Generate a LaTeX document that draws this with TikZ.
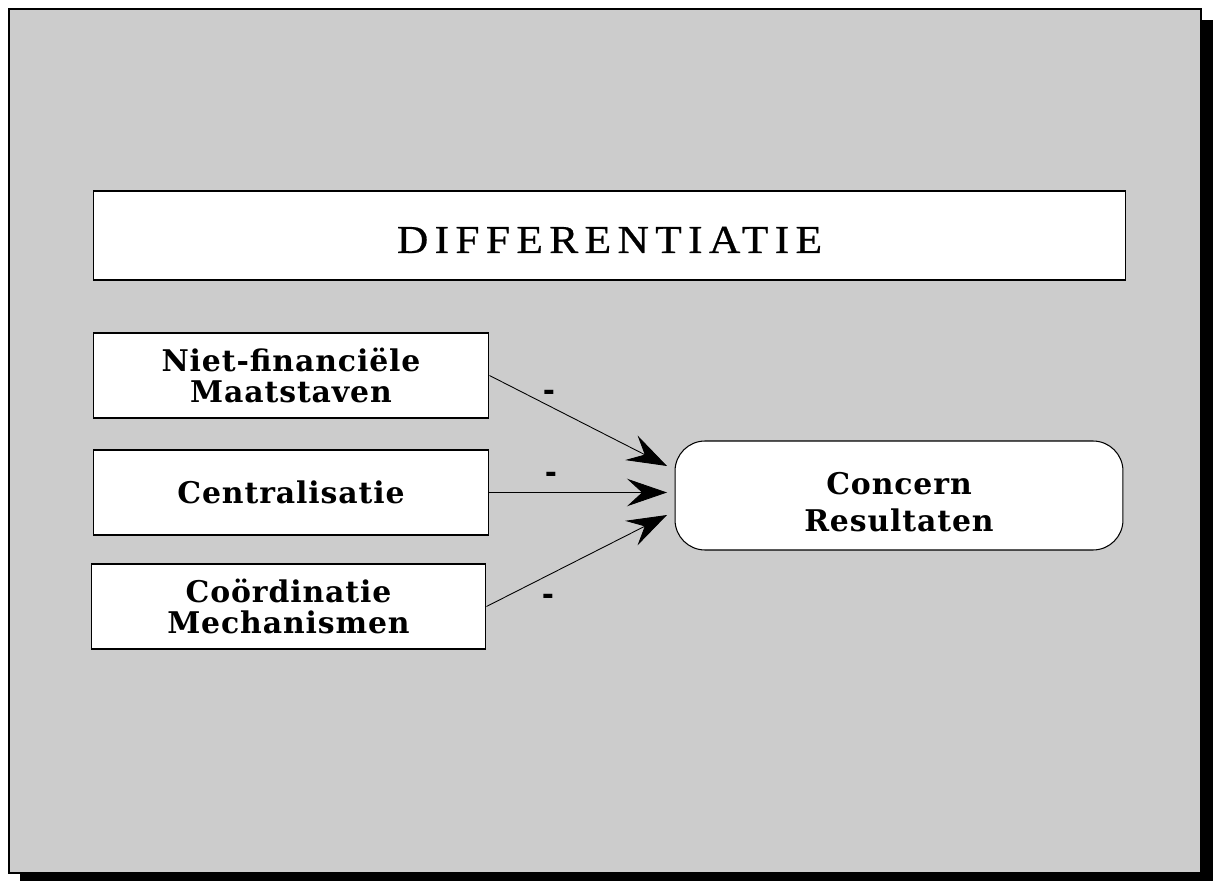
\documentclass[tikz,border=0pt]{standalone}
\usepackage{fontspec}
\setmainfont{Liberation Serif}
\newfontfamily\boxfont[LetterSpace=3]{DejaVu Serif}
\newfontfamily\titlefont[LetterSpace=16,FakeStretch=1.1,FakeBold=0.6]{Liberation Serif}
\newfontfamily\signfont{Liberation Sans}
\usetikzlibrary{arrows.meta}
\definecolor{panel}{HTML}{CCCCCC}

\begin{document}
\begin{tikzpicture}[x=0.02cm, y=-0.02cm,
    factor/.style={draw=black, fill=white, line width=0.6pt, minimum width=7.92cm, minimum height=1.7cm,
        align=center, font=\boxfont\bfseries\fontsize{17}{17.6}\selectfont},
    sign/.style={font=\signfont\bfseries\fontsize{20}{20}\selectfont, inner sep=0pt},
    conn/.style={line width=0.5pt, -{Stealth[length=0.8cm, width=0.55cm, inset=0.3cm]}}]
    \useasboundingbox (0,0) rectangle (1213,881);
    % frame with shadow
    \fill[black] (20,20) rectangle (1213,881);
    \draw[fill=panel, line width=0.04cm] (9,9) rectangle (1201,873);

    \node[draw=black, fill=white, line width=0.6pt, minimum width=20.66cm, minimum height=1.78cm,
        text height=0.7cm, font=\titlefont\fontsize{22.5}{22.5}\selectfont] at (609.5,235.5) (diff) {DIFFERENTIATIE};
    \node[factor] at (291,375.5) (niet) {Niet-financiële\\Maatstaven};
    \node[factor] at (291,492.5) (centr) {Centralisatie};
    \node[factor, minimum width=7.9cm] at (288.5,606.5) (coord) {Coördinatie\\Mechanismen};
    \node[draw=black, fill=white, line width=0.6pt, rounded corners=0.6cm, minimum width=8.96cm,
        minimum height=2.18cm, align=center, font=\boxfont\bfseries\fontsize{17}{21}\selectfont]
        at (899,495.5) (result) {\rule{0pt}{0.7cm}Concern\\Resultaten};

    \coordinate (tipA) at (667,466);
    \coordinate (tipB) at (667,492.5);
    \coordinate (tipC) at (667,515);
    \path [conn] (niet.east) edge node[sign, pos=0.34, yshift=0.2cm] (signA) {-} (tipA);
    \path [conn] (centr.east) edge node[sign, pos=0.35, yshift=0.3cm] (signB) {-} (tipB);
    \path [conn] (coord.east) edge node[sign, pos=0.344, yshift=-0.5cm] (signC) {-} (tipC);
\end{tikzpicture}
\end{document}
